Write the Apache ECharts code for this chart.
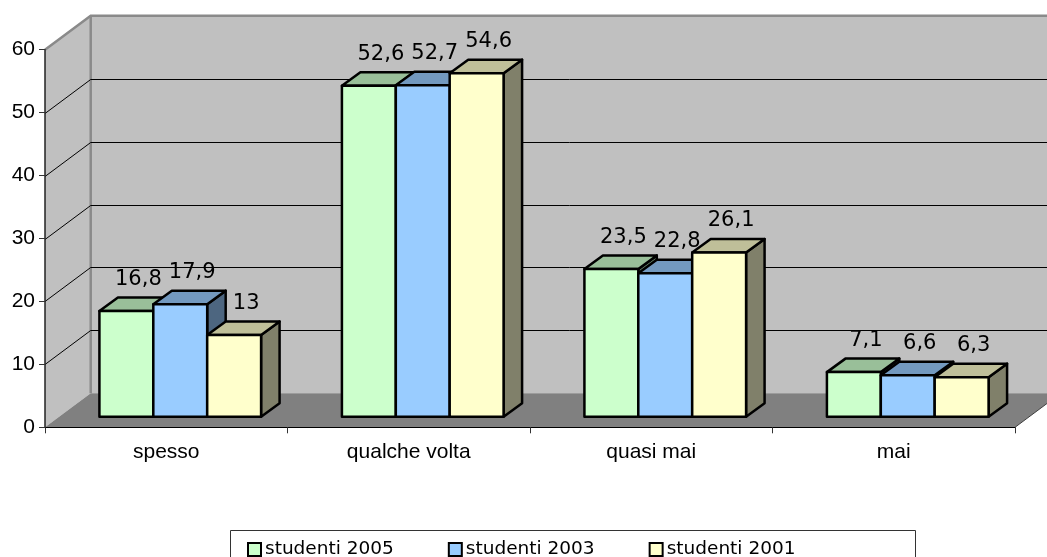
<!DOCTYPE html>
<html>
<head>
<meta charset="utf-8">
<script src="https://cdn.jsdelivr.net/npm/echarts@6/dist/echarts.min.js"></script>
<style>
html,body{margin:0;padding:0;background:#fff;}
#chart{width:1047px;height:557px;}
</style>
</head>
<body>
<div id="chart"></div>
<script>
// ---- data ----
const categories = ['spesso', 'qualche volta', 'quasi mai', 'mai'];
const seriesNames = ['studenti 2005', 'studenti 2003', 'studenti 2001'];
const studenti2005 = [16.8, 52.6, 23.5, 7.1];
const studenti2003 = [17.9, 52.7, 22.8, 6.6];
const studenti2001 = [13, 54.6, 26.1, 6.3];
const yTicks = [10, 20, 30, 40, 50];

// ---- styling ----
const faceColors = [
  {front: '#CCFFCC', top: '#99BF99', side: '#668066'},
  {front: '#99CCFF', top: '#7399BF', side: '#4D6680'},
  {front: '#FFFFCC', top: '#BFBF99', side: '#80806A'}
];
const WALL_DX = 45.7, WALL_DY = -34;   // depth of the floor / walls
const FRONT_DX = 14, FRONT_DY = -10.5; // bar front face offset
const BAR_DX = 18.5, BAR_DY = -13.5;   // bar depth
const BAR_SERIES_START = 2;

const chart = echarts.init(document.getElementById('chart'), null, {renderer: 'canvas'});

function wallsRender(params, api) {
  const cs = params.coordSys;
  const x0 = cs.x, y0 = cs.y, w = cs.width, h = cs.height;
  const bx = x0 + WALL_DX, by = y0 + WALL_DY;
  return {
    type: 'group',
    children: [
      {type: 'polygon', shape: {points: [[bx, by], [bx + w + 60, by], [bx + w + 60, by + h], [bx, by + h]]},
       style: {fill: '#C0C0C0'}},
      {type: 'polygon', shape: {points: [[x0, y0], [bx, by], [bx, by + h], [x0, y0 + h]]},
       style: {fill: '#C0C0C0'}},
      {type: 'polygon', shape: {points: [[x0, y0 + h], [bx, by + h], [bx + w, by + h], [x0 + w, y0 + h]]},
       style: {fill: '#808080'}},
      {type: 'polyline', shape: {points: [[x0, y0], [bx, by], [bx + w + 60, by]]},
       style: {stroke: '#8A8A8A', lineWidth: 2.5, fill: null}},
      {type: 'line', shape: {x1: bx, y1: by, x2: bx, y2: by + h},
       style: {stroke: '#8A8A8A', lineWidth: 2.5}},
      {type: 'line', shape: {x1: x0 + w, y1: y0 + h, x2: x0 + w + WALL_DX, y2: y0 + h + WALL_DY},
       style: {stroke: '#404040', lineWidth: 1}}
    ]
  };
}

function gridRender(params, api) {
  const cs = params.coordSys;
  const p = api.coord([0, api.value(0)]);
  const x0 = cs.x;
  const yb = Math.round(p[1] + WALL_DY) + 0.5;
  const yf = yb - WALL_DY;
  return {
    type: 'polyline',
    shape: {points: [[x0, yf], [x0 + WALL_DX, yb], [x0 + WALL_DX + cs.width + 60, yb]]},
    style: {stroke: '#000', lineWidth: 1, fill: null}
  };
}

function barRender(params, api) {
  const si = params.seriesIndex - BAR_SERIES_START;
  const c = faceColors[si];
  const cat = api.value(0), v = api.value(1);
  const base = api.coord([cat, 0]);
  const topP = api.coord([cat, v]);
  const band = api.size([1, 0])[0];
  const bw = band / 4.5;
  const x0 = base[0] + (si - 1.5) * bw + FRONT_DX;
  const x1 = x0 + bw;
  const yb = base[1] + FRONT_DY;
  const yt = topP[1] + FRONT_DY;
  const stroke = {stroke: '#000', lineWidth: 2.5, lineJoin: 'round'};
  return {
    type: 'group',
    children: [
      {type: 'polygon', shape: {points: [[x1, yt], [x1 + BAR_DX, yt + BAR_DY], [x1 + BAR_DX, yb + BAR_DY], [x1, yb]]},
       style: Object.assign({fill: c.side}, stroke)},
      {type: 'polygon', shape: {points: [[x0, yt], [x0 + BAR_DX, yt + BAR_DY], [x1 + BAR_DX, yt + BAR_DY], [x1, yt]]},
       style: Object.assign({fill: c.top}, stroke)},
      {type: 'rect', shape: {x: x0, y: yt, width: bw, height: yb - yt},
       style: Object.assign({fill: c.front}, stroke)},
      {type: 'text', x: (x0 + x1) / 2 + 12, y: yt + BAR_DY - 18,
       style: {text: String(v).replace('.', ','), fill: '#000', fontSize: 21,
               fontFamily: '"DejaVu Sans", Verdana, sans-serif', align: 'center', verticalAlign: 'middle'}}
    ]
  };
}

const seriesData = [studenti2005, studenti2003, studenti2001];

const option = {
  animation: false,
  backgroundColor: '#fff',
  grid: {left: 45, right: 32, top: 49.7, bottom: 129.7, containLabel: false},
  xAxis: {
    type: 'category', data: categories, z: 10,
    axisLine: {show: true, lineStyle: {color: '#000', width: 1}},
    axisTick: {show: true, length: 6, lineStyle: {color: '#333'}},
    axisLabel: {color: '#000', fontSize: 21, fontFamily: '"Liberation Sans", Arial, sans-serif', margin: 14},
    splitLine: {show: false}
  },
  yAxis: {
    type: 'value', min: 0, max: 60, interval: 10, z: 10,
    axisLine: {show: true, lineStyle: {color: '#222', width: 1.5}},
    axisTick: {show: true, length: 6, lineStyle: {color: '#333'}},
    axisLabel: {color: '#000', fontSize: 21, fontFamily: '"Liberation Sans", Arial, sans-serif', margin: 10},
    splitLine: {show: false}
  },
  legend: {
    data: seriesNames,
    left: 242, top: 535,
    icon: 'rect', itemWidth: 13, itemHeight: 13, itemGap: 54,
    itemStyle: {borderColor: '#000', borderWidth: 2},
    textStyle: {color: '#000', fontSize: 18.5, fontFamily: '"DejaVu Sans", Verdana, sans-serif', padding: [0, 0, 0, -1]},
    selectedMode: false
  },
  graphic: [
    {type: 'rect', left: 228, top: 528, shape: {width: 685, height: 40},
     style: {fill: null, stroke: '#333', lineWidth: 1}, z: 0}
  ],
  series: [
    {type: 'custom', name: 'walls', renderItem: wallsRender, data: [[0, 0]], z: 1, silent: true},
    {type: 'custom', name: 'grid', renderItem: gridRender, data: yTicks.map(v => [v]), z: 2, silent: true},
  ].concat(seriesNames.map((n, i) => ({
    type: 'custom', name: n, renderItem: barRender, z: 5,
    itemStyle: {color: faceColors[i].front, borderColor: '#000', borderWidth: 2},
    data: seriesData[i].map((v, k) => [k, v])
  })))
};
chart.setOption(option);
</script>
</body>
</html>
